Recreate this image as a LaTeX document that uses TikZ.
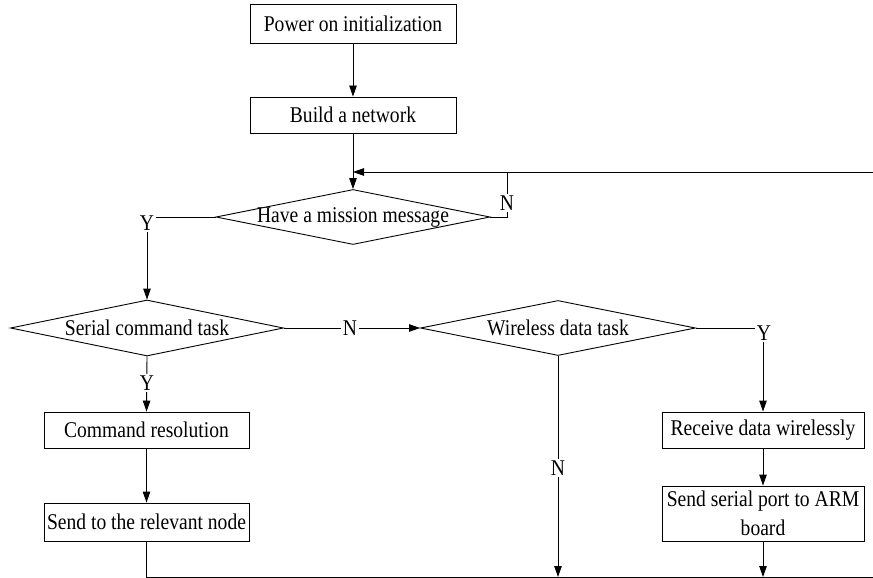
\documentclass[tikz,border=0pt]{standalone}
\usepackage{fontspec}
\setmainfont{Liberation Serif}[FakeStretch=0.87]
\usetikzlibrary{shapes.geometric,arrows.meta}
\begin{document}
\begin{tikzpicture}[x=1pt,y=-1pt,
  box/.style={draw, line width=0.9pt, inner sep=0pt, align=center, font=\fontsize{22.5}{29}\selectfont},
  dia/.style={draw, diamond, line width=0.9pt, inner sep=0pt},
  txt/.style={inner sep=0pt, font=\fontsize{22.5}{29}\selectfont},
  lab/.style={fill=white, inner sep=1.5pt, font=\fontsize{22.5}{29}\selectfont},
  con/.style={line width=0.9pt},
  arr/.style={con, -{Triangle[length=11pt,width=7.5pt]}}]
\fill[white] (0,0) rectangle (873,578);
\useasboundingbox (0,0) rectangle (873,578);

% boxes
\node[box, minimum width=206pt, minimum height=39pt] (p1) at (353,23.5) {Power on initialization};
\node[box, minimum width=206pt, minimum height=36pt] (p2) at (353,115) {Build a network};
\node[box, minimum width=205pt, minimum height=36pt] (b1) at (146.5,430) {Command resolution};
\node[box, minimum width=205pt, minimum height=38pt] (b2) at (146.5,522) {Send to the relevant node};
\node[box, minimum width=202pt, minimum height=36pt] (b3) at (763,430) {Receive data wirelessly};
\node[box, minimum width=202pt, minimum height=55pt] (b4) at (763,513.5) {Send serial port to ARM\\board};

% diamonds
\node[dia, minimum width=274pt, minimum height=55pt] (d1) at (353,217) {};
\node[txt] (d1t) at (d1) {Have a mission message};
\node[dia, minimum width=273pt, minimum height=56pt] (d2) at (147,328) {};
\node[txt] (d2t) at (d2) {Serial command task};
\node[dia, minimum width=275pt, minimum height=55pt] (d3) at (558,328) {};
\node[txt] (d3t) at (d3) {Wireless data task};

% coordinates
\coordinate (fr) at (873,172);
\coordinate (fl) at (353,172);
\coordinate (jn) at (507,172);
\coordinate (bl) at (147,577);
\coordinate (br) at (873,577);
\coordinate (bn) at (558,577);
\coordinate (by) at (763,577);

% connectors
\draw[arr] (p1.south) -- (p2.north);
\draw[arr] (p2.south) -- (d1.north);
\draw[arr] (fr) -- (fl);
\draw[con] (d1.east) -| (jn);
\draw[arr] (d1.west) -| (d2.north);
\draw[arr] (d2.east) -- (d3.west);
\draw[arr] (d3.east) -| (b3.north);
\draw[arr] (d2.south) -- (b1.north);
\draw[arr] (b1.south) -- (b2.north);
\draw[con] (b2.south) |- (br);
\draw[arr] (d3.south) -- (bn);
\draw[arr] (b3.south) -- (b4.north);
\draw[arr] (b4.south) -- (by);

% labels
\node[lab] (n1) at (507,203) {N};
\node[lab] (y1) at (147,223) {Y};
\node[lab] (n2) at (350,328) {N};
\node[lab] (y2) at (764,333) {Y};
\node[lab] (y3) at (147,383) {Y};
\node[lab] (n3) at (558,468) {N};
\end{tikzpicture}
\end{document}
